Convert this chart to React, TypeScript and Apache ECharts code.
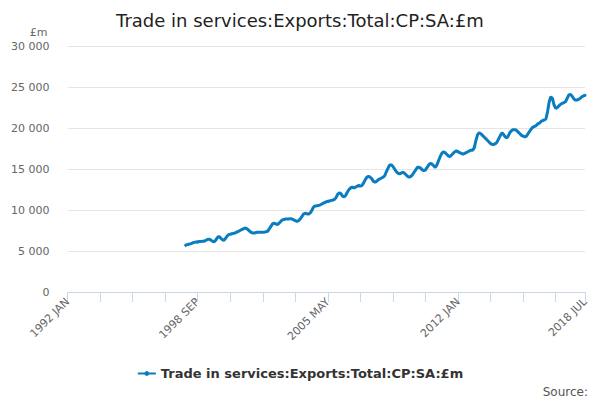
import * as echarts from "echarts";
import React, { useEffect, useRef } from "react";

const MONTHS = ["JAN", "FEB", "MAR", "APR", "MAY", "JUN", "JUL", "AUG", "SEP", "OCT", "NOV", "DEC"];
const categories: string[] = [];
for (let y = 1992; y <= 2018; y++) {
  for (let m = 0; m < 12; m++) {
    if (y === 2018 && m > 6) break;
    categories.push(`${y} ${MONTHS[m]}`);
  }
}

// monthly values from 1998 JAN
const v1998 = [5600, 5750, 5800, 5850, 5900, 6000, 6050, 6100, 6100, 6150, 6150, 6200];
const v1999 = [6200, 6300, 6400, 6450, 6350, 6200, 6100, 6300, 6600, 6800, 6600, 6400];
const v2000 = [6300, 6500, 6800, 7000, 7050, 7100, 7150, 7200, 7300, 7400, 7500, 7600];
const v2001 = [7700, 7800, 7750, 7600, 7400, 7250, 7200, 7200, 7250, 7300, 7300, 7300];
const v2002 = [7300, 7300, 7350, 7400, 7700, 8000, 8300, 8400, 8300, 8200, 8400, 8600];
const v2003 = [8800, 8850, 8900, 8900, 8900, 8950, 8900, 8800, 8700, 8600, 8700, 8900];
const v2004 = [9200, 9500, 9600, 9550, 9500, 9600, 9900, 10300, 10500, 10500, 10550, 10600];
const v2005 = [10700, 10800, 10900, 11000, 11050, 11100, 11150, 11200, 11300, 11500, 11900, 12100];
const v2006 = [12000, 11700, 11600, 11800, 12200, 12500, 12700, 12800, 12700, 12800, 12900, 13000];
const v2007 = [12900, 13000, 13300, 13700, 14000, 14100, 14000, 13800, 13500, 13400, 13500, 13700];
const v2008 = [13800, 13900, 14000, 14200, 14700, 15100, 15500, 15500, 15300, 15000, 14700, 14500];
const v2009 = [14400, 14500, 14600, 14500, 14300, 14100, 14000, 14100, 14300, 14600, 14900, 15200];
const v2010 = [15200, 15100, 14900, 14800, 14900, 15200, 15500, 15700, 15600, 15400, 15200, 15500];
const v2011 = [16000, 16500, 16900, 17100, 17000, 16800, 16600, 16500, 16700, 16900, 17100, 17200];
const v2012 = [17100, 17000, 16900, 16800, 16900, 17000, 17100, 17200, 17300, 17300, 17600, 18500];
const v2013 = [19200, 19400, 19300, 19100, 18900, 18700, 18500, 18300, 18100, 18000, 18000, 18100];
const v2014 = [18300, 18700, 19100, 19400, 19200, 18900, 18800, 19100, 19500, 19700, 19800, 19800];
const v2015 = [19700, 19500, 19300, 19100, 19000, 18900, 19000, 19300, 19600, 19900, 20100, 20200];
const v2016 = [20300, 20500, 20600, 20800, 20900, 21000, 21100, 22000, 23200, 23800, 23600, 22800];
const v2017 = [22400, 22500, 22700, 22900, 23000, 23100, 23200, 23600, 24000, 24100, 23900, 23600];
const v2018 = [23400, 23400, 23500, 23600, 23800, 23900, 24000];

const leading: (number | null)[] = new Array(72).fill(null);
const values: (number | null)[] = leading.concat(
  v1998, v1999, v2000, v2001, v2002, v2003, v2004, v2005, v2006, v2007, v2008,
  v2009, v2010, v2011, v2012, v2013, v2014, v2015, v2016, v2017, v2018
);

const SERIES_NAME = "Trade in services:Exports:Total:CP:SA:£m";
const FONT = "'DejaVu Sans', sans-serif";

const App: React.FC = () => {
  const ref = useRef<HTMLDivElement | null>(null);

  useEffect(() => {
    if (!ref.current) return;
    const chart = echarts.init(ref.current, undefined, { renderer: "svg" });
    const last = categories.length - 1;
    chart.setOption({
      animation: false,
      textStyle: { fontFamily: FONT },
      title: {
        text: SERIES_NAME,
        left: "center",
        top: -2,
        textStyle: { fontSize: 18, fontWeight: "normal", color: "#222", fontFamily: FONT },
      },
      legend: {
        bottom: 15,
        left: "center",
        itemWidth: 18,
        itemHeight: 6,
        textStyle: { fontSize: 13, fontWeight: "bold", color: "#333", fontFamily: FONT },
        data: [SERIES_NAME],
      },
      graphic: [
        {
          type: "text",
          right: 4,
          bottom: 2,
          style: { text: "Source:", fontSize: 12, fill: "#555", fontFamily: FONT },
        },
      ],
      grid: { left: 57, right: 7, top: 38, bottom: 108 },
      xAxis: {
        type: "category",
        data: categories,
        boundaryGap: false,
        axisLine: { lineStyle: { color: "#ccd6eb" } },
        axisTick: {
          length: 10,
          lineStyle: { color: "#ccd6eb" },
          interval: (i: number) => i % 20 === 0 || i === last,
        },
        axisLabel: {
          rotate: 45,
          color: "#666",
          fontSize: 11,
          margin: 8,
          interval: (i: number) => i % 80 === 0 || i === last,
        },
      },
      yAxis: {
        type: "value",
        min: 0,
        max: 30000,
        interval: 5000,
        name: "£m",
        nameLocation: "end",
        nameGap: 8,
        nameTextStyle: { color: "#666", fontSize: 11, align: "right", padding: [0, 20, 0, 0] },
        axisLabel: {
          color: "#666",
          fontSize: 11,
          margin: 18,
          formatter: (v: number) => String(v).replace(/\B(?=(\d{3})+(?!\d))/g, " "),
        },
        splitLine: { lineStyle: { color: "#e6e6e6" } },
      },
      series: [
        {
          name: SERIES_NAME,
          type: "line",
          data: values,
          color: "#0a7cc0",
          symbol: "circle",
          symbolSize: 3,
          showSymbol: true,
          lineStyle: { width: 3 },
        },
      ],
    });
    return () => chart.dispose();
  }, []);

  return <div ref={ref} style={{ width: 584, height: 392 }} />;
};

export default App;
